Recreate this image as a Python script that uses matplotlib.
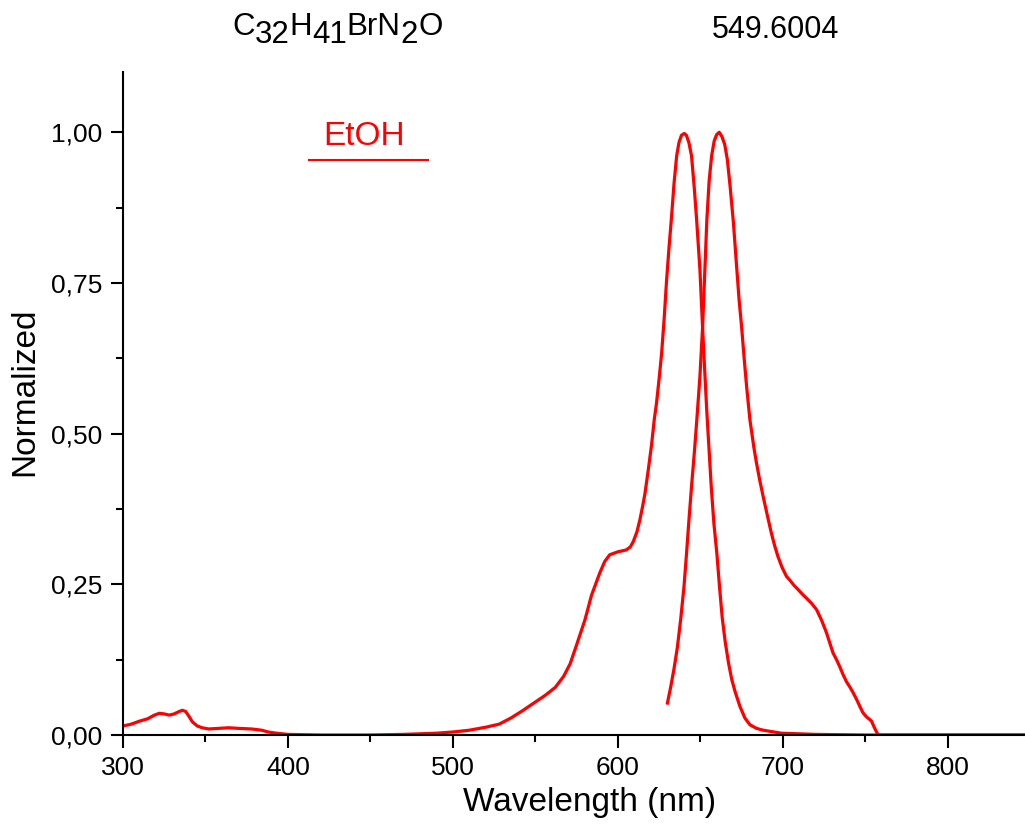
import matplotlib
matplotlib.use("Agg")
import matplotlib.pyplot as plt

plt.rcParams['font.family'] = ['Liberation Sans', 'DejaVu Sans']

# --- data ------------------------------------------------------
abs_nm = [300, 305, 310, 315, 319, 322, 325, 328, 331, 334, 336, 338, 340, 342,
          345, 348, 352, 358, 364, 370, 378, 384, 388, 393, 400, 420, 450, 470,
          490, 500, 510, 520, 528, 535, 542, 549, 556, 562, 567, 571, 575, 580,
          584, 589, 592, 595, 600, 605, 607.5, 609.3, 611.5, 613.3, 615, 616.4,
          618.4, 620.4, 622, 623.4, 625, 626.5, 628, 629.5, 631, 632.5, 634,
          635.6, 637, 638.5, 640.2, 641.5, 643, 644.6, 646.2, 647.7, 649.7,
          651.3, 652.5, 653.8, 655.2, 656.6, 658.2, 660, 661.6, 663.2, 665, 667,
          669, 671, 674, 677, 680, 684, 688, 699, 720, 750, 850]
abs_val = [0.015, 0.018, 0.023, 0.027, 0.033, 0.036, 0.035, 0.033, 0.035, 0.039,
           0.041, 0.039, 0.031, 0.022, 0.015, 0.012, 0.010, 0.011, 0.012, 0.011,
           0.010, 0.008, 0.005, 0.003, 0.001, 0.0, 0.0, 0.001, 0.003, 0.005,
           0.008, 0.013, 0.018, 0.028, 0.040, 0.053, 0.066, 0.079, 0.097, 0.118,
           0.150, 0.191, 0.232, 0.269, 0.288, 0.299, 0.304, 0.307, 0.312, 0.321,
           0.337, 0.357, 0.38, 0.401, 0.44, 0.482, 0.523, 0.551, 0.592, 0.634,
           0.69, 0.755, 0.81, 0.86, 0.915, 0.961, 0.983, 0.995, 0.998, 0.995,
           0.983, 0.961, 0.91, 0.855, 0.772, 0.676, 0.61, 0.54, 0.475, 0.41,
           0.35, 0.30, 0.245, 0.195, 0.155, 0.12, 0.092, 0.072, 0.047, 0.028,
           0.017, 0.011, 0.008, 0.003, 0.001, 0.0, 0.0]

em_nm = [630, 632, 634, 636, 638, 640, 641.6, 643, 644.6, 646.5, 648, 649.7,
         651.3, 652.7, 653.9, 655.3, 656.8, 658.3, 659.8, 661.4, 663, 664.7,
         666.3, 668, 670, 672, 673.5, 675, 676.5, 678, 680, 682.4, 684, 686, 688,
         690.5, 693, 695, 697, 699.5, 702.2, 704.2, 706.5, 709.3, 712, 714.3,
         717.5, 720.4, 723.5, 726.5, 728.5, 730.4, 732.5, 734.5, 736.5, 738.6,
         740.5, 742.4, 744.5, 746.7, 748.5, 750.7, 752.5, 753.7, 755.5, 757.7, 850]
em_val = [0.053, 0.08, 0.11, 0.145, 0.191, 0.245, 0.302, 0.355, 0.412, 0.475,
          0.53, 0.595, 0.676, 0.772, 0.855, 0.92, 0.961, 0.985, 0.996, 1.0,
          0.993, 0.98, 0.955, 0.91, 0.85, 0.775, 0.72, 0.676, 0.625, 0.578,
          0.523, 0.477, 0.451, 0.422, 0.396, 0.365, 0.335, 0.314, 0.296, 0.278,
          0.263, 0.257, 0.249, 0.241, 0.233, 0.227, 0.218, 0.208, 0.19, 0.169,
          0.152, 0.136, 0.125, 0.113, 0.10, 0.088, 0.08, 0.071, 0.06, 0.047,
          0.037, 0.03, 0.026, 0.023, 0.012, 0.0, 0.0]

xticks = [300, 400, 500, 600, 700, 800]
yticks = [0.0, 0.25, 0.50, 0.75, 1.0]
ytick_labels = ['0,00', '0,25', '0,50', '0,75', '1,00']

# formula pieces: (text, is_subscript)
formula = [('C', False), ('32', True), ('H', False), ('41', True),
           ('BrN', False), ('2', True), ('O', False)]

# --- figure ------------------------------------------------------
fig = plt.figure(figsize=(10.25, 8.34), dpi=100)
ax = fig.add_axes([0.12, 0.1187, 0.911, 0.795])

red = '#ff0000'
ax.plot(abs_nm, abs_val, color=red, lw=2.3, solid_joinstyle='round')
ax.plot(em_nm, em_val, color=red, lw=2.3, solid_joinstyle='round')

ax.set_xlim(300, 866)
ax.set_ylim(0, 1.10)
ax.set_xticks(xticks)
ax.set_xticks([350, 450, 550, 650, 750], minor=True)
ax.set_yticks(yticks)
ax.set_yticklabels(ytick_labels)
ax.set_yticks([0.125, 0.375, 0.625, 0.875], minor=True)

for s in ['top', 'right']:
    ax.spines[s].set_visible(False)
for s in ['left', 'bottom']:
    ax.spines[s].set_linewidth(1.5)
ax.tick_params(which='major', direction='out', length=9, width=1.5,
               labelsize=19, pad=6)
ax.tick_params(which='minor', direction='out', length=5, width=1.5)

ax.set_xlabel('Wavelength (nm)', fontsize=24, labelpad=5)
ax.set_ylabel('Normalized', fontsize=24)
ax.yaxis.set_label_coords(-0.089, 0.517)

# legend: text above a short line
ax.text(0.258, 0.890, 'EtOH', color=red, fontsize=24, ha='center',
        va='baseline', transform=ax.transAxes)
ax.plot([0.199, 0.3266], [0.867, 0.867], color=red, lw=1.5,
        transform=ax.transAxes, clip_on=False)

# chemical formula drawn piece by piece, subscripts lowered
r = fig.canvas.get_renderer()
W, H = fig.bbox.width, fig.bbox.height
x = 232 / W
for txt, sub in formula:
    y = (1 - 43 / H) if sub else (1 - 35 / H)
    t = fig.text(x, y, txt, fontsize=22.5, ha='left', va='baseline')
    x = t.get_window_extent(r).x1 / W

fig.text(0.757, 1 - 38 / H, '549.6004', fontsize=22, ha='center', va='baseline')

plt.savefig('out.png', dpi=100)
